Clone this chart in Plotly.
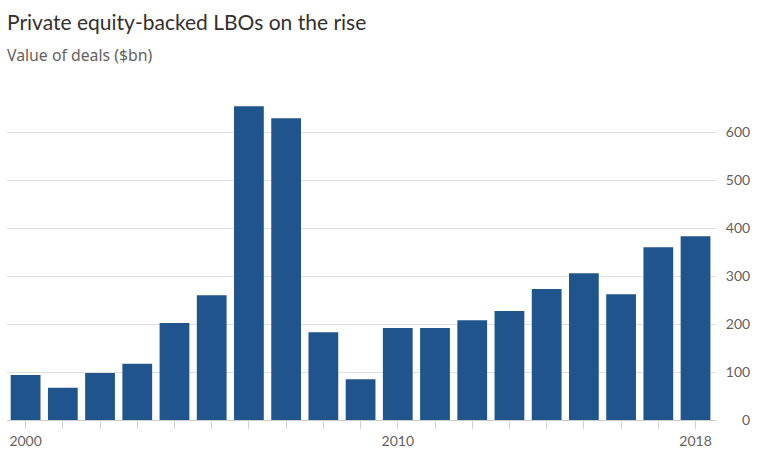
import plotly.graph_objects as go

years = list(range(2000, 2019))
values = [94, 67, 98, 117, 202, 260, 654, 629, 183, 85, 192, 192, 208, 227, 273, 306, 262, 360, 383]
x_labels = {2000: "2000", 2010: "2010", 2018: "2018"}
y_ticks = [0, 100, 200, 300, 400, 500, 600]

title = "Private equity-backed LBOs on the rise"
subtitle = "Value of deals ($bn)"

fig = go.Figure()
fig.add_trace(go.Bar(
    x=years, y=values,
    marker=dict(color="#1f558c", line=dict(width=0)),
    width=0.8,
    hoverinfo="x+y",
))

fs = "\u2007"
ytext = [fs * (3 - len(str(v))) + str(v) for v in y_ticks]

fig.update_layout(
    width=757, height=456,
    margin=dict(l=7, r=39, t=89, b=36),
    paper_bgcolor="white", plot_bgcolor="white",
    showlegend=False,
    bargap=0.2,
    font=dict(family="Lato, Noto Sans, sans-serif", color="#66605c", size=14),
    xaxis=dict(
        range=[1999.5, 2018.55],
        tickmode="array", tickvals=years,
        ticktext=[x_labels.get(y, "") for y in years],
        ticks="outside", ticklen=8, tickcolor="#d4d2cf", tickwidth=1,
        showline=True, linecolor="#cfcdca", linewidth=1,
        showgrid=False, zeroline=False,
        tickfont=dict(size=14, color="#66605c"),
    ),
    yaxis=dict(
        side="right",
        range=[0, 690],
        tickmode="array", tickvals=y_ticks, ticktext=ytext,
        showgrid=True, gridcolor="#e2e0de", gridwidth=1,
        zeroline=False,
        ticks="outside", ticklen=6, tickcolor="rgba(0,0,0,0)",
        tickfont=dict(size=14, color="#66605c"),
    ),
    annotations=[
        dict(text=title, x=-0.003, y=1, xref="paper", yref="paper", xanchor="left", yanchor="top",
             yshift=89 - 7, showarrow=False,
             font=dict(size=21, color="#33302e", family="Lato, Noto Sans, sans-serif")),
        dict(text=subtitle, x=-0.003, y=1, xref="paper", yref="paper", xanchor="left", yanchor="top",
             yshift=89 - 42, showarrow=False,
             font=dict(size=15.8, color="#66605c", family="Noto Sans, Lato, sans-serif")),
    ],
)

fig.write_html("out.html")
